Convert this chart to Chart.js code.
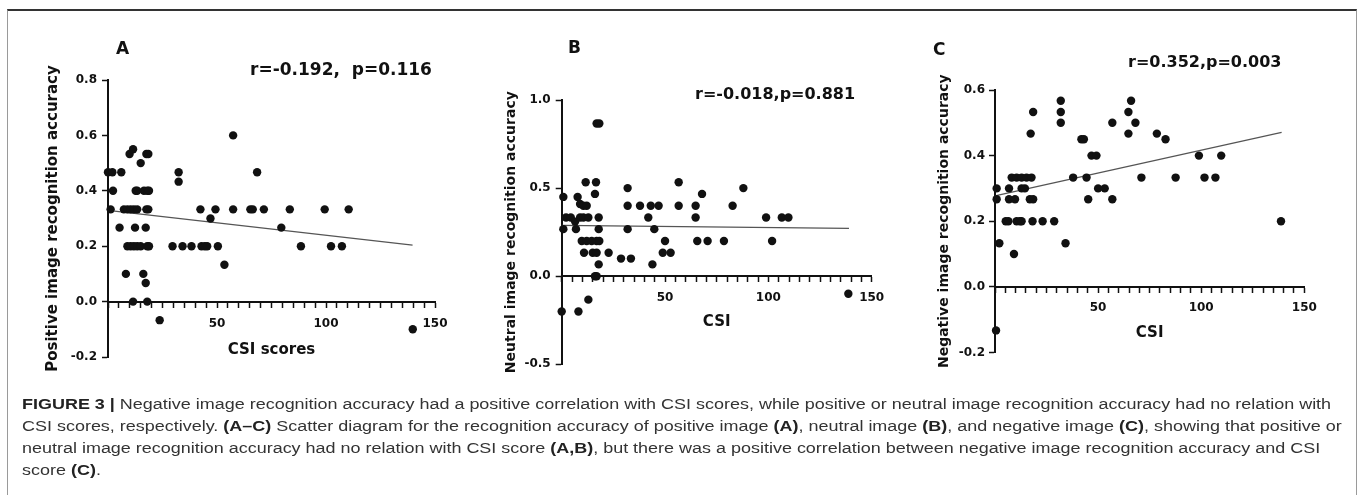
<!DOCTYPE html>
<html><head><meta charset="utf-8">
<script src="https://cdn.jsdelivr.net/npm/chart.js@4/dist/chart.umd.min.js"></script>
<style>
html,body{margin:0;padding:0;background:#fff;}
body{width:1357px;height:495px;position:relative;overflow:hidden;}
#frame{position:absolute;left:7px;top:9px;width:1350px;height:500px;border-top:2px solid #333;border-left:1px solid #9a9a9a;border-right:1px solid #9a9a9a;box-sizing:border-box;}
canvas{position:absolute;}
.lbl{position:absolute;font-family:"DejaVu Sans",sans-serif;font-weight:bold;color:#111;line-height:1;white-space:pre;transform:translateY(-50%);}
#caption{position:absolute;left:22px;top:393px;font-family:"Liberation Sans",Arial,sans-serif;font-size:15.5px;line-height:22px;color:#333;white-space:nowrap;transform:scaleX(1.159);transform-origin:0 0;}
#caption b{color:#222;}
</style></head><body>
<div id="frame"></div>
<canvas id="cA"></canvas><canvas id="cB"></canvas><canvas id="cC"></canvas>
<div class="lbl" style="left:116px;top:48px;font-size:17px;">A</div>
<div class="lbl" style="left:250px;top:69px;font-size:17px;">r=-0.192,  p=0.116</div>
<div class="lbl" style="left:568px;top:47px;font-size:17px;">B</div>
<div class="lbl" style="left:695px;top:94px;font-size:16px;">r=-0.018,p=0.881</div>
<div class="lbl" style="left:933px;top:49px;font-size:17px;">C</div>
<div class="lbl" style="left:1128px;top:62px;font-size:16px;">r=0.352,p=0.003</div>
<div id="caption">
<div><b>FIGURE 3 |</b> Negative image recognition accuracy had a positive correlation with CSI scores, while positive or neutral image recognition accuracy had no relation with</div>
<div>CSI scores, respectively. <b>(A–C)</b> Scatter diagram for the recognition accuracy of positive image <b>(A)</b>, neutral image <b>(B)</b>, and negative image <b>(C)</b>, showing that positive or</div>
<div>neutral image recognition accuracy had no relation with CSI score <b>(A,B)</b>, but there was a positive correlation between negative image recognition accuracy and CSI</div>
<div>score <b>(C)</b>.</div>
</div>
<script>
// ---- Data ----
const csiA = [0,2.0,6.1,2.3,1.2,5.3,
  7.3,8.9,10.4,11.9,13.4,17.6,18.5,
  8.9,10.4,11.9,13.4,15.0,18.0,18.8,
  8.2,11.5,18.0,9.9,11.5,15.0,17.6,18.5,12.4,17.3,
  12.7,13.4,16.5,18.0,18.8,
  16.2,17.3,23.7,29.6,32.4,32.4,
  34.2,38.3,42.9,44.4,45.5,50.4,
  42.4,47.0,49.3,53.4,57.4,57.4,65.3,66.4,68.4,71.5,79.5,83.4,88.5,99.4,102.3,107.3,110.4,139.8];
const accA = [0.467,0.467,0.467,0.4,0.333,0.267,
  0.333,0.333,0.333,0.333,0.333,0.333,0.333,
  0.2,0.2,0.2,0.2,0.2,0.2,0.2,
  0.1,0,0,0.533,0.55,0.5,0.533,0.533,0.267,0.267,
  0.4,0.4,0.4,0.4,0.4,
  0.1,0.067,-0.067,0.2,0.467,0.433,
  0.2,0.2,0.2,0.2,0.2,0.2,
  0.333,0.3,0.333,0.133,0.6,0.333,0.333,0.333,0.467,0.333,0.267,0.333,0.2,0.333,0.2,0.2,0.333,-0.1];

const csiB = [0.8,0.8,0,2.1,4.4,6.5,6.9,7.7,8.9,10.5,12.1,8.1,12.9,11.6,
  8.9,10.5,12.9,
  9.7,12.1,14.5,16.9,18.2,
  10.8,15.0,16.9,
  16.1,16.6,16.9,18.2,17.9,17.9,16.1,16.9,17.9,22.7,28.7,33.5,31.9,31.9,31.9,37.9,41.9,43.1,46.9,44.8,43.9,50.0,48.9,52.7,56.6,56.6,64.8,64.8,65.6,67.9,70.6,78.5,82.7,87.9,98.9,101.8,106.5,109.7,138.7];
const accB = [0.45,0.267,-0.2,0.333,0.333,0.31,0.267,0.45,0.41,0.4,0.4,-0.2,-0.133,0.533,
  0.333,0.333,0.333,
  0.2,0.2,0.2,0.2,0.2,
  0.133,0.133,0.133,
  0.467,0.533,0.867,0.867,0.333,0.267,0,0,0.067,0.133,0.1,0.1,0.5,0.4,0.267,0.4,0.333,0.4,0.4,0.267,0.067,0.2,0.133,0.133,0.533,0.4,0.4,0.333,0.2,0.467,0.2,0.2,0.4,0.5,0.333,0.2,0.333,0.333,-0.1];

const csiC = [0.8,0.8,0.5,2.1,
  5.2,6.5,10.5,12.1,12.9,18.2,23.1,28.7,
  6.8,6.8,9.2,9.7,
  8.1,10.5,12.9,15.3,17.7,
  12.9,14.5,16.9,18.5,17.3,18.5,31.9,31.9,31.9,34.2,37.9,41.9,43.1,44.4,45.2,46.8,49.2,50.0,53.2,56.9,56.9,64.7,66.0,64.7,68.1,71.0,78.5,82.7,87.6,98.9,101.6,106.9,109.7,138.7];
const accC = [0.3,0.267,-0.133,0.133,
  0.2,0.2,0.2,0.2,0.2,0.2,0.2,0.2,
  0.267,0.3,0.1,0.267,
  0.333,0.333,0.333,0.333,0.333,
  0.3,0.3,0.267,0.267,0.467,0.533,0.567,0.533,0.5,0.133,0.333,0.45,0.45,0.333,0.267,0.4,0.4,0.3,0.3,0.5,0.267,0.533,0.567,0.467,0.5,0.333,0.467,0.45,0.333,0.4,0.333,0.333,0.4,0.2];

// regression line end points
const fitXA = [0,139.7], fitYA = [0.329,0.204];
const fitXB = [0,139],   fitYB = [0.288,0.271];
const fitXC = [0,139],   fitYC = [0.277,0.471];

const xTitles = ['CSI scores','CSI','CSI'];
const yTitles = ['Positive image recognition accuracy','Neutral image recognition accuracy','Negative image recognition accuracy'];
const yRanges = [[-0.2,0.8,0.2],[-0.5,1.0,0.5],[-0.2,0.6,0.2]];
const xRange = [0,150,5];

// ---- Layout (page pixels) ----
const layouts = [
  {id:'cA', left:108, right:435, top:80, bottom:299.3, Wy:64, Hx:57.7, xPad:10, yPad:5, yTitleSize:15},
  {id:'cB', left:561.7, right:871.7, top:100, bottom:309.3, Wy:58.4, Hx:55, xPad:9, yPad:5, yTitleSize:14},
  {id:'cC', left:995, right:1304.3, top:90, bottom:296.7, Wy:59.4, Hx:55.7, xPad:8.5, yPad:4, yTitleSize:14}
];
const series = [[csiA,accA,fitXA,fitYA],[csiB,accB,fitXB,fitYB],[csiC,accC,fitXC,fitYC]];

const INK = '#111';
const tickFont = {family:'DejaVu Sans', weight:'bold', size:12};

layouts.forEach((g,i)=>{
  const [xs,ys,fx,fy] = series[i];
  const Lc = Math.floor(g.left - g.Wy - 6);
  const padL = g.left - g.Wy - Lc;
  const W = Math.ceil(g.right + 25 - Lc);
  const padR = Lc + W - g.right;
  const Tc = 15;
  const padT = g.top - Tc;
  const H = Math.ceil(g.bottom + g.Hx + 30 - Tc);
  const padB = Tc + H - g.bottom - g.Hx;
  const cv = document.getElementById(g.id);
  cv.width = W; cv.height = H;
  cv.style.left = Lc + 'px'; cv.style.top = Tc + 'px';
  cv.style.width = W + 'px'; cv.style.height = H + 'px';
  const [ymin,ymax,ystep] = yRanges[i];
  new Chart(cv, {
    type:'scatter',
    data:{datasets:[
      {data: xs.map((x,k)=>({x:x, y:ys[k]})), pointRadius:4.2, pointHoverRadius:4.2,
       pointBackgroundColor:INK, pointBorderWidth:0, borderWidth:0, clip:false},
      {type:'line', data: fx.map((x,k)=>({x:x, y:fy[k]})), borderColor:'#555', borderWidth:1.2,
       pointRadius:0, fill:false, clip:false}
    ]},
    options:{
      responsive:false, animation:false, devicePixelRatio:1,
      layout:{padding:{left:padL, right:padR, top:padT, bottom:padB}},
      plugins:{legend:{display:false}, tooltip:{enabled:false}},
      scales:{
        x:{type:'linear', min:xRange[0], max:xRange[1], position:{y:0},
           ticks:{stepSize:xRange[2], autoSkip:false, maxRotation:0, minRotation:0, padding:g.xPad, color:INK, font:tickFont,
                  callback:(v)=> (v>0 && v%50===0) ? String(v) : ''},
           grid:{drawOnChartArea:false, drawTicks:true, tickLength:5, tickColor:INK, tickWidth:1.5},
           border:{display:true, color:INK, width:2},
           title:{display:true, text:xTitles[i], color:INK, padding:0, font:{family:'DejaVu Sans', weight:'bold', size:15}},
           afterFit:(s)=>{s.height = g.Hx;}
        },
        y:{type:'linear', min:ymin, max:ymax, position:'left',
           ticks:{stepSize:ystep, padding:g.yPad, color:INK, font:tickFont, callback:(v)=> Number(v).toFixed(1)},
           grid:{drawOnChartArea:false, drawTicks:true, tickLength:6, tickColor:INK, tickWidth:1.5},
           border:{display:true, color:INK, width:2},
           title:{display:true, text:yTitles[i], color:INK, padding:0, font:{family:'DejaVu Sans', weight:'bold', size:g.yTitleSize}},
           afterFit:(s)=>{s.width = g.Wy;}
        }
      }
    }
  });
});
</script>
</body></html>
